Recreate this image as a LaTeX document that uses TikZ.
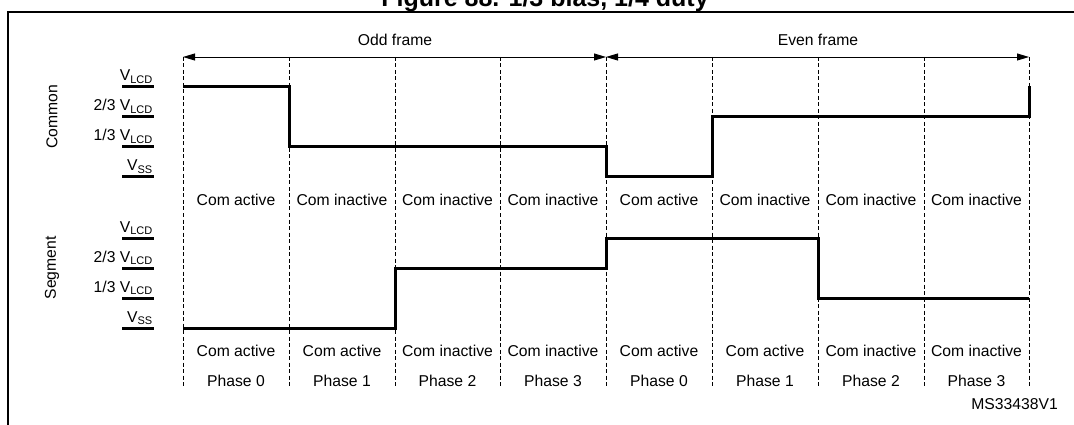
\documentclass[tikz,border=0pt]{standalone}
\usepackage{fontspec}
\setmainfont{Liberation Sans}
\usetikzlibrary{arrows.meta}

\newcommand{\vlcd}{V\textsubscript{LCD}}
\newcommand{\vsupply}{V\textsubscript{SS}}

\begin{document}
\begin{tikzpicture}[x=1pt, y=-1pt, font=\fontsize{15.7}{18}\selectfont,
  wave/.style={line width=3pt, line join=miter},
  levelbar/.style={line width=3pt},
  gridline/.style={line width=0.9pt, dash pattern=on 4pt off 2.5pt},
  framearrow/.style={line width=0.9pt, {Triangle[length=12pt,width=7pt]}-{Triangle[length=12pt,width=7pt]}},
  txt/.style={inner sep=0pt, anchor=base},
  lvl/.style={inner sep=0pt, anchor=base east}]
  \useasboundingbox (0,0) rectangle (1074,425);
  \clip (0,0) rectangle (1074,425);
  % title, cut at the top
  \node[txt, font=\bfseries\fontsize{25}{28}\selectfont] (title) at (545,7) {Figure 88. 1/3 bias, 1/4 duty};
  \draw[line width=2.2pt] (8,425) -- (8,12) -- (1074,12);
  % time marks
  \coordinate (t0) at (183,57);
  \coordinate (t1) at (289,57);
  \coordinate (t2) at (395,57);
  \coordinate (t3) at (500,57);
  \coordinate (t4) at (606,57);
  \coordinate (t5) at (712,57);
  \coordinate (t6) at (818,57);
  \coordinate (t7) at (924,57);
  \coordinate (t8) at (1029,57);
  \draw[gridline] (t0) -- ++(0,331);
  \draw[gridline] (t1) -- ++(0,331);
  \draw[gridline] (t2) -- ++(0,331);
  \draw[gridline] (t3) -- ++(0,331);
  \draw[gridline] (t4) -- ++(0,331);
  \draw[gridline] (t5) -- ++(0,331);
  \draw[gridline] (t6) -- ++(0,331);
  \draw[gridline] (t7) -- ++(0,331);
  \draw[gridline] (t8) -- ++(0,331);
  % frames
  \draw[framearrow] (t0) -- (t4);
  \draw[framearrow] (t4) -- (t8);
  \node[txt] (odd) at (395,46) {Odd frame};
  \node[txt] (even) at (818,46) {Even frame};
  % common levels
  \node[rotate=90, inner sep=0pt] (common) at (52,117) {Common};
  \node[lvl] (cvlcd) at (153,81) {\vlcd};
  \node[lvl] (ctwo) at (153,111) {2/3 \vlcd};
  \node[lvl] (cone) at (153,141) {1/3 \vlcd};
  \node[lvl] (cvss) at (153,171) {\vsupply};
  \draw[levelbar] (122,87) -- (154,87);
  \draw[levelbar] (122,117) -- (154,117);
  \draw[levelbar] (122,147) -- (154,147);
  \draw[levelbar] (122,177) -- (154,177);
  \draw[wave] (183,87) -- (289,87) -- (289,147) -- (606,147) -- (606,177)
    -- (712,177) -- (712,117) -- (1029,117) -- (1029,86);
  \node[txt] (ca0) at (236,205) {Com active};
  \node[txt] (ca1) at (342,205) {Com inactive};
  \node[txt] (ca2) at (447.5,205) {Com inactive};
  \node[txt] (ca3) at (553,205) {Com inactive};
  \node[txt] (ca4) at (659,205) {Com active};
  \node[txt] (ca5) at (765,205) {Com inactive};
  \node[txt] (ca6) at (871,205) {Com inactive};
  \node[txt] (ca7) at (976.5,205) {Com inactive};
  % segment levels
  \node[rotate=90, inner sep=0pt] (segment) at (52,268) {Segment};
  \node[lvl] (svlcd) at (153,232) {\vlcd};
  \node[lvl] (stwo) at (153,262) {2/3 \vlcd};
  \node[lvl] (sone) at (153,292) {1/3 \vlcd};
  \node[lvl] (svss) at (153,322) {\vsupply};
  \draw[levelbar] (122,238) -- (154,238);
  \draw[levelbar] (122,268) -- (154,268);
  \draw[levelbar] (122,298) -- (154,298);
  \draw[levelbar] (122,328) -- (154,328);
  \draw[wave] (183,328) -- (395,328) -- (395,268) -- (606,268) -- (606,238)
    -- (818,238) -- (818,298) -- (1029,298);
  \node[txt] (sa0) at (236,356) {Com active};
  \node[txt] (sa1) at (342,356) {Com active};
  \node[txt] (sa2) at (447.5,356) {Com inactive};
  \node[txt] (sa3) at (553,356) {Com inactive};
  \node[txt] (sa4) at (659,356) {Com active};
  \node[txt] (sa5) at (765,356) {Com active};
  \node[txt] (sa6) at (871,356) {Com inactive};
  \node[txt] (sa7) at (976.5,356) {Com inactive};
  % phases
  \node[txt] (ph0) at (236,386) {Phase 0};
  \node[txt] (ph1) at (342,386) {Phase 1};
  \node[txt] (ph2) at (447.5,386) {Phase 2};
  \node[txt] (ph3) at (553,386) {Phase 3};
  \node[txt] (ph4) at (659,386) {Phase 0};
  \node[txt] (ph5) at (765,386) {Phase 1};
  \node[txt] (ph6) at (871,386) {Phase 2};
  \node[txt] (ph7) at (976.5,386) {Phase 3};
  \node[inner sep=0pt, anchor=base east] (ref) at (1058,409) {MS33438V1};
\end{tikzpicture}
\end{document}
